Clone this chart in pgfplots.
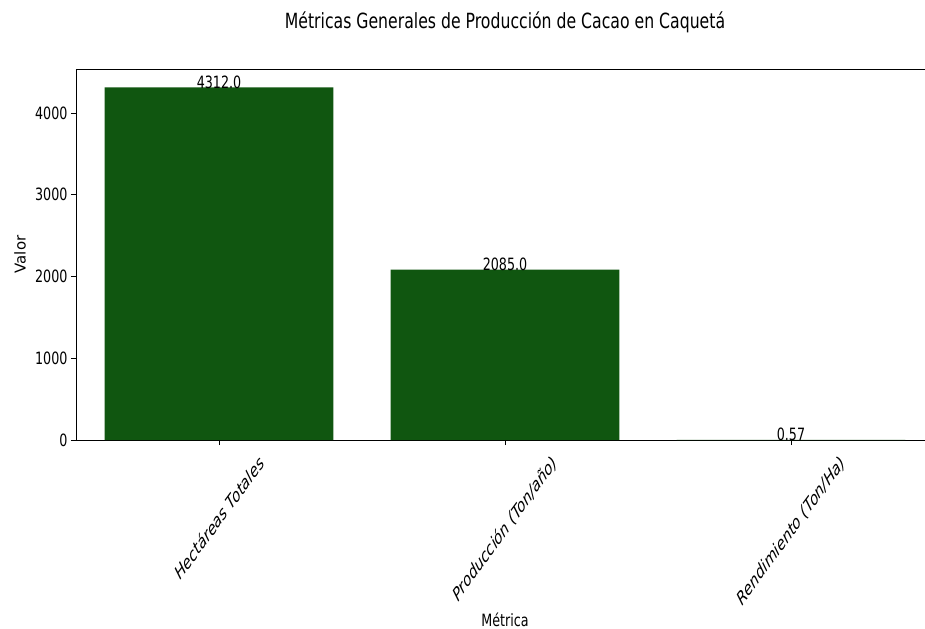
\documentclass[border=0pt]{standalone}
\usepackage{fontspec}
\setmainfont{DejaVu Sans}[FakeStretch=0.75]
\newfontfamily\plainfont{DejaVu Sans}
\usepackage{pgfplots}
\usepackage{pgfplotstable}
\pgfplotsset{compat=1.18}
\usetikzlibrary{calc}
\definecolor{bargreen}{RGB}{16,86,16}

\pgfplotstableread{
x y lab
0 4312.0 4312.0
1 2085.0 2085.0
2 0.57 0.57
}\datatable

\begin{document}
\begin{tikzpicture}
\begin{axis}[
  name=ax,
  scale only axis,
  width=849bp, height=371bp,
  xmin=-0.5, xmax=2.4685, ymin=0, ymax=4538,
  axis x line=box, axis y line*=left,
  xtick pos=left, ytick pos=left,
  axis line style={black, line width=0.9bp},
  xtick={0,1,2},
  xticklabels={
    {\scalebox{0.73}[1]{\rotatebox{45}{Hectáreas Totales}}},
    {\scalebox{0.73}[1]{\rotatebox{45}{Producción (Ton/año)}}},
    {\scalebox{0.73}[1]{\rotatebox{45}{Rendimiento (Ton/Ha)}}}},
  xticklabel style={font=\plainfont\itshape\fontsize{18.5}{22}\selectfont, anchor=north, inner sep=2bp, yshift=-7bp},
  ytick={0,1000,2000,3000,4000},
  yticklabel style={font=\fontsize{17}{20}\selectfont},
  /pgf/number format/assume math mode=true,
  /pgf/number format/1000 sep={},
  tick align=outside,
  major tick length=5bp,
  tick style={black, line width=0.9bp},
  ybar, bar width=0.8,
  title={Métricas Generales de Producción de Cacao en Caquetá},
  title style={at={(axis description cs:0.5053,1.1105)}, anchor=center, font=\fontsize{21}{25}\selectfont},
  xlabel={Métrica},
  xlabel style={at={(axis description cs:0.5053,-0.486)}, anchor=center, font=\fontsize{17}{20}\selectfont},
  ylabel={Valor},
  ylabel style={at={(axis description cs:-0.066,0.5)}, anchor=center, font=\plainfont\fontsize{15}{18}\selectfont},
  nodes near coords,
  point meta=explicit symbolic,
  every node near coord/.style={anchor=base, inner sep=0pt, yshift=-1bp, font=\fontsize{17}{20}\selectfont, black},
]
\addplot[fill=bargreen, draw=none] table[x=x, y=y, meta=lab] {\datatable};
\end{axis}
\pgfresetboundingbox
\path[use as bounding box] ($(ax.south west)+(-76bp,-189bp)$) rectangle ($(ax.south west)+(849bp,440bp)$);
\end{tikzpicture}
\end{document}
